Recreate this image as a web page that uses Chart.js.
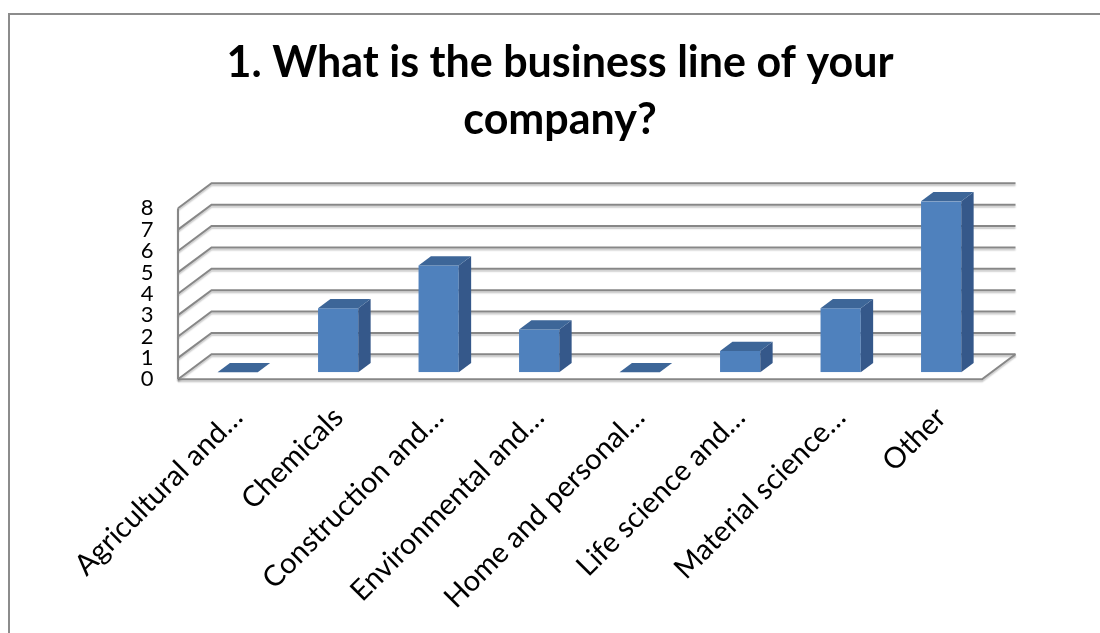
<!DOCTYPE html>
<html>
<head>
<meta charset="utf-8">
<title>Business line</title>
<script src="https://cdn.jsdelivr.net/npm/chart.js@4.4.1/dist/chart.umd.min.js"></script>
<style>
  html, body { margin: 0; padding: 0; background: #ffffff; }
  #wrap { position: relative; width: 1100px; height: 633px; }
</style>
</head>
<body>
<div id="wrap"><canvas id="chart" width="1100" height="633"></canvas></div>
<script>
// Survey question and answer counts
const titleLines = ['1. What is the business line of your', 'company?'];
const categories = [
  'Agricultural and…',
  'Chemicals',
  'Construction and…',
  'Environmental and…',
  'Home and personal…',
  'Life science and…',
  'Material science…',
  'Other'
];
const responses = [0, 3, 5, 2, 0, 1, 3, 8];
const yMin = 0;
const yMax = 8;
const yStep = 1;

// Pseudo-3D box: the scale plane is the plane of the bar fronts.
// DEPTH is the full front-to-back offset of the box in pixels.
const DEPTH = { dx: 33.5, dy: -25 };
const FACE_Z = 0.28;   // depth of the bar fronts inside the box (0 = front, 1 = back)
const BAR_Z = 0.37;    // thickness of each bar along the depth axis
const COLORS = {
  front: '#4f81bd',
  side: '#35588a',
  top: '#3d6698',
  grid: '#878787',
  frame: '#8c8c8c'
};

const box3d = {
  id: 'box3d',
  beforeDraw(chart) {
    const ctx = chart.ctx;
    ctx.save();
    ctx.fillStyle = '#ffffff';
    ctx.fillRect(0, 0, chart.width, chart.height);
    ctx.strokeStyle = COLORS.frame;
    ctx.lineWidth = 2;
    ctx.beginPath();
    ctx.moveTo(chart.width + 10, 14);
    ctx.lineTo(9, 14);
    ctx.lineTo(9, chart.height + 10);
    ctx.stroke();
    ctx.restore();
  },
  beforeDatasetsDraw(chart) {
    const { ctx, chartArea, scales } = chart;
    const y = scales.y;
    const L = chartArea.left, R = chartArea.right;
    const fx = -FACE_Z * DEPTH.dx, fy = -FACE_Z * DEPTH.dy;
    const bx = (1 - FACE_Z) * DEPTH.dx, by = (1 - FACE_Z) * DEPTH.dy;
    ctx.save();
    ctx.strokeStyle = COLORS.grid;
    ctx.lineWidth = 2;
    ctx.lineJoin = 'miter';
    ctx.shadowColor = 'rgba(0,0,0,0.22)';
    ctx.shadowOffsetY = 2;
    ctx.shadowBlur = 1.5;
    // side wall and back wall gridlines
    y.ticks.forEach(t => {
      const py = y.getPixelForValue(t.value);
      ctx.beginPath();
      ctx.moveTo(L + fx, py + fy);
      ctx.lineTo(L + bx, py + by);
      ctx.lineTo(R + bx, py + by);
      ctx.stroke();
    });
    // floor front and right edges
    const p0 = y.getPixelForValue(yMin);
    ctx.beginPath();
    ctx.moveTo(L + fx, p0 + fy);
    ctx.lineTo(R + fx, p0 + fy);
    ctx.lineTo(R + bx, p0 + by);
    ctx.stroke();
    // front edge of the side wall
    ctx.beginPath();
    ctx.moveTo(L + fx, y.getPixelForValue(yMax) + fy);
    ctx.lineTo(L + fx, p0 + fy);
    ctx.stroke();
    ctx.restore();
  },
  afterDatasetsDraw(chart) {
    const ctx = chart.ctx;
    const meta = chart.getDatasetMeta(0);
    const dx = BAR_Z * DEPTH.dx, dy = BAR_Z * DEPTH.dy;
    ctx.save();
    meta.data.forEach(bar => {
      const p = bar.getProps(['x', 'y', 'base', 'width'], true);
      const xl = p.x - p.width / 2, xr = p.x + p.width / 2;
      const top = p.y, base = p.base;
      // right side face
      if (base - top > 0.5) {
        ctx.fillStyle = COLORS.side;
        ctx.beginPath();
        ctx.moveTo(xr, top);
        ctx.lineTo(xr + dx, top + dy);
        ctx.lineTo(xr + dx, base + dy);
        ctx.lineTo(xr, base);
        ctx.closePath();
        ctx.fill();
      }
      // top face
      ctx.fillStyle = COLORS.top;
      ctx.beginPath();
      ctx.moveTo(xl, top);
      ctx.lineTo(xr, top);
      ctx.lineTo(xr + dx, top + dy);
      ctx.lineTo(xl + dx, top + dy);
      ctx.closePath();
      ctx.fill();
    });
    ctx.restore();
  }
};

const AREA = { left: 187.4, right: 991.4, bottom: 372.3, top: 201.3 };

new Chart(document.getElementById('chart'), {
  type: 'bar',
  data: {
    labels: categories,
    datasets: [{
      data: responses,
      backgroundColor: COLORS.front,
      borderWidth: 0,
      barPercentage: 0.4,
      categoryPercentage: 1.0
    }]
  },
  plugins: [box3d],
  options: {
    responsive: false,
    animation: false,
    events: [],
    layout: { padding: { left: 20, right: 0, top: 0, bottom: 0 } },
    plugins: {
      legend: { display: false },
      tooltip: { enabled: false },
      title: {
        display: true,
        text: titleLines,
        color: '#000000',
        font: { family: 'Lato', size: 43, weight: 'bold', lineHeight: 57 / 43 },
        padding: { top: 35, bottom: AREA.top - 35 - 2 * 57 }
      }
    },
    scales: {
      x: {
        type: 'category',
        position: 'bottom',
        grid: { display: false, drawTicks: false },
        border: { display: false },
        ticks: {
          autoSkip: false,
          minRotation: 45,
          maxRotation: 45,
          color: '#000000',
          padding: 28,
          labelOffset: 0,
          font: { family: 'Lato', size: 29 }
        },
        afterFit(s) { s.height = 633 - AREA.bottom; }
      },
      y: {
        type: 'linear',
        position: 'left',
        min: yMin,
        max: yMax,
        grid: { display: false, drawTicks: false },
        border: { display: false },
        ticks: {
          autoSkip: false,
          stepSize: yStep,
          color: '#000000',
          padding: 34,
          labelOffset: 7,
          font: { family: 'Lato', size: 22 }
        },
        afterFit(s) { s.width = AREA.left - 20; }
      },
      yRight: {
        type: 'linear',
        position: 'right',
        display: true,
        grid: { display: false, drawTicks: false },
        border: { display: false },
        ticks: { display: false },
        afterFit(s) { s.width = 1100 - AREA.right; }
      }
    }
  }
});
</script>
</body>
</html>
